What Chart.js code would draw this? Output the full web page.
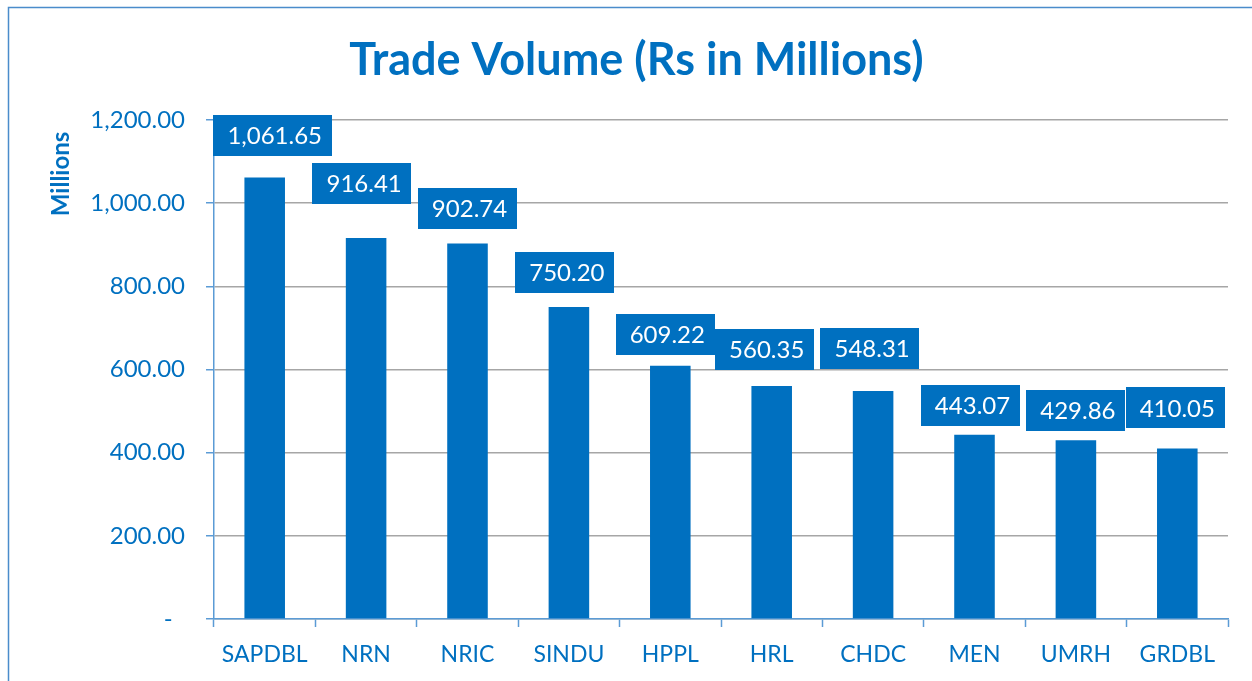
<!DOCTYPE html>
<html>
<head>
<meta charset="utf-8">
<script src="https://cdn.jsdelivr.net/npm/chart.js@4/dist/chart.umd.min.js"></script>
<style>
  html, body { margin: 0; padding: 0; background: #fff; }
  #wrap { width: 1252px; height: 681px; position: relative; }
</style>
</head>
<body>
<div id="wrap"><canvas id="c"></canvas></div>
<script>
const categories = ['SAPDBL', 'NRN', 'NRIC', 'SINDU', 'HPPL', 'HRL', 'CHDC', 'MEN', 'UMRH', 'GRDBL'];
const tradeVolume = [1061.65, 916.41, 902.74, 750.20, 609.22, 560.35, 548.31, 443.07, 429.86, 410.05];
const yTickValues = [0, 200, 400, 600, 800, 1000, 1200];

// label box placement nudges (style only): [dx, gap above bar]
const labelNudge = [[8, 22], [-4, 34], [0, 15], [-4, 14], [-5, 11], [-7, 16], [-3, 22], [-4, 9], [0, 9], [-2, 20]];

const BLUE = '#0070C0';
const AXIS = '#5B9BD5';
const FONT = 'Lato, "Open Sans", sans-serif';

const fmt = v => v.toLocaleString('en-US', { minimumFractionDigits: 2, maximumFractionDigits: 2 });

const frame = {
  id: 'frame',
  beforeDraw(chart) {
    const ctx = chart.ctx;
    ctx.save();
    ctx.strokeStyle = '#4A8CCB';
    ctx.lineWidth = 1.5;
    ctx.strokeRect(8.5, 7.5, 1300, 800);
    ctx.restore();
  }
};

const boxLabels = {
  id: 'boxLabels',
  afterDatasetsDraw(chart) {
    const ctx = chart.ctx;
    const meta = chart.getDatasetMeta(0);
    ctx.save();
    ctx.font = '24px ' + FONT;
    ctx.textBaseline = 'middle';
    ctx.textAlign = 'center';
    meta.data.forEach((bar, i) => {
      const txt = fmt(chart.data.datasets[0].data[i]);
      const tw = ctx.measureText(txt).width;
      const w = tw + 24, h = 41;
      const n = labelNudge[i] || [0, 16];
      const cx = bar.x + n[0];
      const bottom = bar.y - n[1];
      ctx.fillStyle = BLUE;
      ctx.fillRect(Math.round(cx - w / 2), Math.round(bottom - h), Math.round(w), h);
      ctx.fillStyle = '#ffffff';
      ctx.fillText(txt, cx + 2, bottom - h / 2 + 1);
    });
    ctx.restore();
  }
};

new Chart(document.getElementById('c'), {
  type: 'bar',
  data: {
    labels: categories,
    datasets: [{
      data: tradeVolume,
      backgroundColor: BLUE,
      borderWidth: 0,
      categoryPercentage: 1.0,
      barPercentage: 0.4
    }]
  },
  options: {
    responsive: true,
    maintainAspectRatio: false,
    animation: false,
    layout: { padding: { left: 12, right: 24, top: 0, bottom: 0 } },
    plugins: {
      legend: { display: false },
      tooltip: { enabled: false },
      title: {
        display: true,
        text: '   Trade Volume (Rs in Millions)',
        color: BLUE,
        font: { family: FONT, size: 45, weight: 'bold' },
        padding: { top: 33, bottom: 33 }
      }
    },
    scales: {
      x: {
        afterFit(scale) { scale.height = 62; },
        grid: { display: true, drawOnChartArea: false, drawTicks: true, tickLength: 8, tickColor: AXIS, tickWidth: 1.5, offset: true },
        border: { display: true, color: AXIS, width: 1.5 },
        ticks: { color: BLUE, font: { family: FONT, size: 23 }, padding: 14, maxRotation: 0, autoSkip: false }
      },
      y: {
        min: 0,
        max: 1200,
        afterFit(scale) { scale.width = 202; },
        afterBuildTicks(scale) { scale.ticks = yTickValues.map(v => ({ value: v })); },
        grid: { color: '#A6A6A6', lineWidth: 1.5, drawTicks: true, tickLength: 8, tickColor: AXIS, tickWidth: 1.5 },
        border: { display: true, color: AXIS, width: 1.5 },
        ticks: {
          color: BLUE,
          font: { family: FONT, size: 24 },
          padding: 21,
          callback: v => v === 0 ? '-  ' : fmt(v)
        },
        title: {
          display: true,
          text: 'Millions  ',
          align: 'end',
          color: BLUE,
          font: { family: FONT, size: 24, weight: 'bold' },
          padding: { top: 35, bottom: 0 }
        }
      }
    }
  },
  plugins: [frame, boxLabels]
});
</script>
</body>
</html>
